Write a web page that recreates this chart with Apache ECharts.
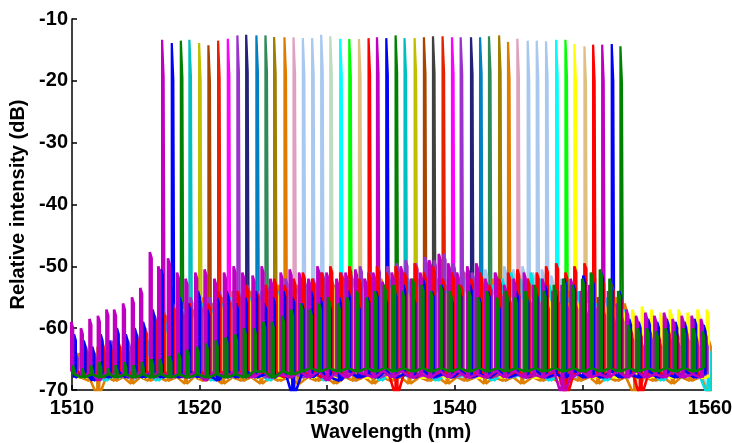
<!DOCTYPE html>
<html>
<head>
<meta charset="utf-8">
<script src="https://cdn.jsdelivr.net/npm/echarts@6/dist/echarts.min.js"></script>
<style>
  html, body { margin: 0; padding: 0; background: #ffffff; }
  #chart { width: 732px; height: 443px; }
</style>
</head>
<body>
<div id="chart"></div>
<script>
// ---- Channel peaks: centre wavelength (nm), peak level (dB), trace colour ----
const channelWavelengths = [
  1517.06, 1517.82, 1518.53, 1519.20, 1519.96, 1520.69, 1521.45, 1522.21, 1522.96, 1523.65,
  1524.45, 1525.16, 1525.84, 1526.65, 1527.36, 1528.09, 1528.82, 1529.53, 1530.24, 1531.02,
  1531.73, 1532.49, 1533.24, 1533.90, 1534.63, 1535.36, 1536.06, 1536.85, 1537.58, 1538.29,
  1539.04, 1539.78, 1540.46, 1541.27, 1541.98, 1542.68, 1543.47, 1544.17, 1544.90, 1545.71,
  1546.42, 1547.15, 1547.94, 1548.67, 1549.37, 1550.16, 1550.84, 1551.55, 1552.30, 1552.98
];
const channelPeaks = [
  -13.35, -13.9, -13.5, -13.35, -13.9, -14.25, -13.5, -13.2, -12.65, -12.55,
  -12.65, -12.65, -12.9, -12.95, -12.95, -13.1, -13.1, -12.55, -12.8, -13.2,
  -13.25, -13.25, -13.1, -12.95, -13.1, -12.65, -13.1, -13.1, -12.95, -12.8,
  -12.8, -12.95, -12.95, -12.95, -12.95, -12.8, -12.65, -13.7, -13.2, -13.5,
  -13.5, -13.6, -13.35, -13.35, -14.05, -14.4, -14.15, -14.15, -14.05, -14.4
];
const channelColors = [
  '#c000c0', '#0000ff', '#008000', '#00bfbf', '#bfbf00', '#a84300', '#e62000', '#ff00ff', '#9933cc', '#22227a',
  '#0080c0', '#2e8b57', '#a07e00', '#e07b00', '#e0a0c0', '#a8c8f0', '#a8c8f0', '#a8c8f0', '#c0dcc0', '#00ffff',
  '#00ff00', '#e0c080', '#ff0000', '#c000c0', '#0000ff', '#008000', '#00bfbf', '#bfbf00', '#a84300', '#404040',
  '#e62000', '#ff00ff', '#9933cc', '#22227a', '#0080c0', '#2e8b57', '#a07e00', '#e07b00', '#e0a0c0', '#a8c8f0',
  '#a8c8f0', '#a8c8f0', '#00ffff', '#00ff00', '#ffff00', '#e0c080', '#ff0000', '#c000c0', '#0000ff', '#008000'
];

// ---- Background (ASE / side-mode) ripple: spike positions (nm) ----
const rippleGrid = [
  1510.24, 1511.00, 1511.67, 1512.33, 1513.00, 1513.60, 1514.30, 1515.00, 1515.65, 1516.40,
  1517.06, 1517.82, 1518.53, 1519.20, 1519.96, 1520.69, 1521.45, 1522.21, 1522.96, 1523.65,
  1524.45, 1525.16, 1525.84, 1526.65, 1527.36, 1528.09, 1528.82, 1529.53, 1530.24, 1531.02,
  1531.73, 1532.49, 1533.24, 1533.90, 1534.63, 1535.36, 1536.06, 1536.85, 1537.58, 1538.29,
  1539.04, 1539.78, 1540.46, 1541.27, 1541.98, 1542.68, 1543.47, 1544.17, 1544.90, 1545.71,
  1546.42, 1547.15, 1547.94, 1548.67, 1549.37, 1550.16, 1550.84, 1551.55, 1552.30, 1552.98,
  1553.75, 1554.50, 1555.23, 1555.94, 1556.69, 1557.37, 1558.08, 1558.86, 1559.59
];

// Spike tops / valley levels (dB) of each background trace, one value per grid position
const magentaTops = [
  -59, -60, -58.5, -58, -57, -57, -56, -55, -53.5, -47.7,
  -50, -48.7, -51, -52, -51, -50.5, -52, -51, -50, -51,
  -51.5, -50, -52, -51, -50.5, -51, -52, -50, -51, -52,
  -51, -50.5, -52, -51, -52.5, -51, -50, -52, -51, -49,
  -48, -49.5, -51, -50, -49.5, -52, -51, -53, -52, -51,
  -53, -52, -54, -53, -52, -54, -53, -55, -54, -56,
  -57, -58, -57.5, -58, -57.5, -58.5, -58, -58, -58.5
];
const magentaLows = [
  -67, -68, -67, -68.5, -67, -68, -67.5, -68, -67, -68,
  -67, -68, -67.5, -68, -67, -68.5, -67, -68, -67, -67.5,
  -68, -67, -68, -67.5, -68, -67, -68, -67, -68.5, -67,
  -68, -67, -67.5, -68, -67, -68, -67, -68, -67.5, -68,
  -67, -68, -67, -68, -67.5, -68, -67, -68, -67, -68,
  -67.5, -68, -67, -71, -68, -67, -68, -67.5, -68, -67,
  -68, -67, -68, -67.5, -68, -67, -68, -67.5, -68
];
const blueTops = [
  -61, -62, -63, -61, -62, -60, -61, -60, -59, -57,
  -50.5, -53, -55, -56, -54, -57, -55, -54, -56, -55,
  -54, -56, -55, -54, -55, -56, -54, -55, -56, -55,
  -54, -56, -55, -54, -55, -54, -53, -55, -52, -54,
  -53, -55, -54, -53, -55, -54, -56, -55, -54, -55,
  -54, -53, -54, -52, -53, -51.5, -52, -51, -53, -54,
  -58.5, -59, -58.5, -59, -58.5, -59, -59, -58.5, -59.5
];
const blueLows = [
  -68, -67, -68.5, -67.5, -68, -67, -68, -67.5, -68, -67,
  -68, -67.5, -68, -67, -68, -67.5, -68.5, -67, -68, -67,
  -68, -67.5, -68, -67, -71, -67.5, -68, -67, -68, -68.5,
  -67, -68, -67.5, -68, -67, -68, -67.5, -68, -67, -68,
  -67.5, -68, -67, -68, -67.5, -68, -67, -68, -67.5, -68,
  -67, -68, -67.5, -68, -67, -68, -67.5, -68, -67, -68,
  -67.5, -68, -67, -68, -67.5, -68, -67, -68, -67.5
];
const redTops = [
  -64, -63, -64, -62, -63, -62, -63, -61, -60, -58,
  -57, -56, -57, -56, -55, -56, -54, -55, -54, -53,
  -54, -53, -52, -53, -52, -51, -52, -51, -50, -51,
  -50, -52, -51, -50, -51, -50, -51, -49.5, -51, -50,
  -52, -51, -53, -52, -51, -53, -52, -51, -50.5, -52,
  -51, -50, -49.5, -51, -50, -49.5, -51, -52, -53, -55,
  -60, -60.5, -60, -61, -60, -60.5, -60, -61, -60.5
];
const redLows = [
  -67, -67.5, -67, -68, -67, -67.5, -67, -68, -67, -67.5,
  -67, -68, -67, -67.5, -67, -68, -67, -67.5, -67, -68,
  -67, -67.5, -67, -68, -67, -67.5, -67, -68, -67, -67.5,
  -67, -68, -67, -67.5, -67, -71, -67, -68, -67, -67.5,
  -67, -68, -67, -67.5, -67, -68, -67, -67.5, -67, -68,
  -67, -67.5, -67, -71, -67, -68, -67, -67.5, -67, -68,
  -67, -71, -67, -67.5, -67, -68, -67, -67.5, -67
];
const greenTops = [
  -66, -66.5, -66, -65.5, -66.5, -66, -65.5, -66, -65.5, -65,
  -65, -64.5, -64, -63.5, -63, -62.5, -62, -61.5, -61, -60,
  -60, -59, -59, -58, -57, -56, -57, -56, -55, -56,
  -55, -54, -55, -54, -53, -53, -54, -52, -53, -54,
  -53, -54, -53, -54, -55, -54, -55, -54, -55, -54,
  -53, -54, -53, -52, -53, -52, -51, -50.5, -52, -54,
  -59.5, -60, -60, -60.5, -60, -60.5, -60, -60, -60.5
];
const greenLows = [
  -67.5, -68, -67.5, -68, -67.5, -68, -67.5, -68, -67.5, -68,
  -67.5, -68, -67.5, -68, -67.5, -68, -67.5, -68, -67.5, -68,
  -67, -67, -68, -67, -67.5, -67, -66.5, -67, -66.5, -67,
  -66.5, -67, -66.5, -67, -66.5, -67, -66.5, -67, -66.5, -67,
  -66.5, -67, -66.5, -67, -66.5, -67, -66.5, -67, -66.5, -67,
  -66.5, -67, -66.5, -67, -66.5, -67, -66.5, -67, -66.5, -67,
  -66.5, -67, -66.5, -67, -66.5, -67, -66.5, -67, -66.5
];
const yellowTops = [
  -66, -66, -65, -66, -65, -66, -65, -65, -64, -63,
  -60, -59, -58, -58, -57, -57, -56, -56, -56, -55,
  -55, -55, -54, -54, -54, -54, -53, -54, -53, -54,
  -53, -53, -54, -53, -53, -53, -54, -53, -54, -53.5,
  -54, -54, -53.5, -54, -54.5, -54, -54.5, -55, -54.5, -55,
  -55.5, -55, -55.5, -56, -55.5, -56, -56.5, -56, -56.5, -57,
  -57, -56.5, -57, -57.5, -57, -57, -57.5, -57, -57
];
const yellowLows = [
  -68, -68, -68, -67, -68, -68, -67, -68, -68, -67,
  -68, -68, -67, -68, -68, -67, -68, -68, -67, -68,
  -68, -67, -68, -68, -67, -68, -68, -67, -68, -68,
  -67, -68, -68, -67, -68, -68, -67, -68, -68, -67,
  -68, -68, -67, -68, -68, -67, -68, -68, -67, -68,
  -68, -67, -68, -68, -67, -68, -68, -67, -68, -68,
  -67, -68, -68, -67, -68, -68, -67, -68, -68
];
const orangeTops = [
  -64, -65, -63, -64, -65, -63, -64, -63, -62, -61,
  -58, -57, -56, -57, -55, -56, -55, -54, -55, -54,
  -55, -54, -53, -54, -53, -54, -53, -54, -53, -52,
  -53, -52, -53, -52, -53, -52, -53, -52, -51, -52,
  -53, -52, -51, -52, -53, -52, -53, -54, -53, -54,
  -53, -54, -55, -54, -55, -54, -55, -56, -55, -56,
  -62, -63, -62, -63, -62, -63, -62, -63, -62
];
const orangeLows = [
  -68, -68.5, -71, -68, -68.5, -68, -69, -68, -68.5, -68,
  -68.5, -68, -69, -68, -68.5, -68, -69, -68, -68.5, -68,
  -69, -68, -68.5, -68, -69, -68, -68.5, -68, -69, -68,
  -68.5, -68, -69, -68, -68.5, -68, -69, -68, -68.5, -68,
  -69, -68, -68.5, -68, -69, -68, -68.5, -68, -69, -68,
  -68.5, -68, -69, -68, -68.5, -68, -69, -68, -68.5, -68,
  -71, -68, -68.5, -68, -69, -68, -68.5, -68, -71
];
const cyanTops = [
  -65, -64, -65, -64, -63, -64, -63, -62, -62, -61,
  -59, -58, -57, -58, -56, -57, -56, -55, -56, -55,
  -54, -55, -54, -55, -54, -53, -54, -53, -54, -53,
  -52, -53, -52, -53, -52, -53, -52, -53, -54, -53,
  -54, -53, -52, -53, -52, -53, -52, -51, -52, -51,
  -52, -53, -54, -55, -54, -55, -56, -55, -56, -57,
  -63, -64, -63, -64, -63, -64, -63, -64, -63
];
const cyanLows = [
  -67.5, -68, -67.5, -68.5, -67.5, -68, -67.5, -68, -67.5, -68.5,
  -67.5, -68, -67.5, -68, -67.5, -68.5, -67.5, -68, -67.5, -68,
  -67.5, -68.5, -67.5, -68, -67.5, -68, -67.5, -68.5, -67.5, -68,
  -67.5, -68, -67.5, -68.5, -67.5, -68, -67.5, -68, -67.5, -68.5,
  -67.5, -68, -67.5, -68, -67.5, -68.5, -67.5, -68, -67.5, -68,
  -67.5, -68.5, -67.5, -68, -67.5, -68, -67.5, -68.5, -67.5, -68,
  -67.5, -68, -67.5, -68.5, -67.5, -68, -67.5, -68, -71
];
const purpleTops = [
  -64, -63, -64, -63, -62, -63, -62, -61, -60, -58,
  -57, -56, -57, -55, -56, -55, -54, -55, -54, -53,
  -54, -53, -53, -52, -53, -52, -52, -51, -52, -51,
  -51, -50, -51, -50, -50, -49.5, -49, -49.5, -48.5, -49,
  -48, -49.5, -50, -51, -52, -53, -54, -55, -54, -55,
  -55, -56, -55, -56, -56, -57, -56, -57, -58, -58,
  -61, -62, -61, -62, -61, -62, -61, -62, -62
];
const purpleLows = [
  -67.5, -68, -67.5, -68, -67.5, -68, -67.5, -68, -67.5, -68,
  -67.5, -68, -67.5, -68, -67.5, -68, -67.5, -68, -67.5, -68,
  -67.5, -68, -67.5, -68, -67.5, -68, -67.5, -68, -67.5, -68,
  -67.5, -68, -67.5, -68, -67.5, -68, -67.5, -68, -67.5, -68,
  -67.5, -68, -67.5, -68, -67.5, -68, -67.5, -68, -67.5, -68,
  -67.5, -68, -67.5, -68, -67.5, -68, -67.5, -68, -67.5, -68,
  -67.5, -68, -67.5, -68, -67.5, -68, -67.5, -68, -67.5
];
const lightBlueTops = [
  -65, -66, -65, -66, -65, -66, -65, -66, -64, -63,
  -62, -61, -62, -61, -60, -61, -60, -59, -60, -59,
  -58, -59, -58, -57, -58, -57, -56, -57, -56, -55,
  -56, -55, -54, -55, -54, -53, -54, -53, -52, -53,
  -52, -51, -52, -51, -50.5, -51, -50, -50.5, -50, -51,
  -50.5, -51.5, -52, -53, -54, -55, -56, -57, -58, -59,
  -62, -63, -62, -63, -62, -63, -62, -63, -71
];
const lightBlueLows = [
  -68, -67.5, -68.5, -67.5, -68, -67.5, -68.5, -67.5, -68, -67.5,
  -68.5, -67.5, -68, -67.5, -68.5, -67.5, -68, -67.5, -68.5, -67.5,
  -68, -67.5, -68.5, -67.5, -68, -67.5, -68.5, -67.5, -68, -67.5,
  -68.5, -67.5, -68, -67.5, -68.5, -67.5, -68, -67.5, -68.5, -67.5,
  -68, -67.5, -68.5, -67.5, -68, -67.5, -68.5, -67.5, -68, -67.5,
  -68.5, -67.5, -68, -67.5, -68.5, -67.5, -68, -67.5, -68.5, -67.5,
  -68, -67.5, -68.5, -67.5, -68, -67.5, -68.5, -67.5, -71
];

// Background traces: [colour, tops, lows, wavelength shift of the spikes (nm)], painted in order
const backgroundTraces = [
  ['#a8c8f0', lightBlueTops, lightBlueLows, 0.40],
  ['#e08000', orangeTops, orangeLows, 0.32],
  ['#00e0e0', cyanTops, cyanLows, 0.24],
  ['#ffff00', yellowTops, yellowLows, 0.16],
  ['#9933cc', purpleTops, purpleLows, 0.08],
  ['#ff0000', redTops, redLows, 0.0],
  ['#0000ff', blueTops, blueLows, -0.09],
  ['#c000c0', magentaTops, magentaLows, -0.3],
  ['#008000', greenTops, greenLows, -0.18]
];

// Peak outline relative to the channel centre (nm): steep rise, short flat top, stepped fall
const PEAK_TOP = 0.1, PEAK_STEP = 0.12, PEAK_FALL = 0.2;
const PEAK_BASE = -64;
// Width of one background spike (nm)
const SPIKE_WIDTH = 0.14;

const series = [];

// Channel peaks first, so the background ripple is painted over their feet
channelWavelengths.forEach((wl, i) => {
  const top = channelPeaks[i];
  series.push({
    type: 'line',
    name: 'ch' + (i + 1),
    data: [
      [wl, PEAK_BASE],
      [wl, top],
      [wl + PEAK_TOP, top - 0.3],
      [wl + PEAK_STEP, top - 6],
      [wl + PEAK_FALL, PEAK_BASE]
    ],
    showSymbol: false,
    clip: true,
    lineStyle: { color: channelColors[i], width: 2.2 },
    z: 2
  });
});

backgroundTraces.forEach(([color, tops, lows, shift], t) => {
  const pts = [];
  rippleGrid.forEach((g, k) => {
    const x = g + shift;
    pts.push([x, lows[k]]);
    pts.push([x, tops[k]]);
    pts.push([x + SPIKE_WIDTH, tops[k] - 1]);
    pts.push([x + SPIKE_WIDTH, lows[k]]);
  });
  series.push({
    type: 'line',
    name: 'bg' + t,
    data: pts,
    showSymbol: false,
    clip: true,
    lineStyle: { color: color, width: 2.6 },
    z: 3
  });
});

const labelFont = { fontFamily: 'Arial, "Liberation Sans", sans-serif', fontWeight: 'bold', fontSize: 20, color: '#000' };

const chart = echarts.init(document.getElementById('chart'), null, { renderer: 'canvas' });
chart.setOption({
  animation: false,
  backgroundColor: '#ffffff',
  grid: { left: 72, right: 22, top: 19, bottom: 53, containLabel: false, outerBoundsMode: 'none' },
  xAxis: {
    type: 'value',
    min: 1510, max: 1560, interval: 10,
    name: 'Wavelength (nm)',
    nameLocation: 'middle',
    nameGap: 31,
    nameTextStyle: Object.assign({}, labelFont),
    axisLine: { show: true, onZero: false, lineStyle: { color: '#000', width: 1.5 } },
    axisTick: { show: true, inside: true, length: 5, lineStyle: { color: '#000', width: 1.5 } },
    axisLabel: Object.assign({ margin: 8, formatter: v => String(v) }, labelFont),
    splitLine: { show: false }
  },
  yAxis: {
    type: 'value',
    min: -70, max: -10, interval: 10,
    name: 'Relative intensity (dB)',
    nameLocation: 'middle',
    nameGap: 42,
    nameTextStyle: Object.assign({}, labelFont),
    axisLine: { show: true, onZero: false, lineStyle: { color: '#000', width: 1.5 } },
    axisTick: { show: true, inside: true, length: 5, lineStyle: { color: '#000', width: 1.5 } },
    axisLabel: Object.assign({ margin: 4, formatter: v => String(v) }, labelFont),
    splitLine: { show: false }
  },
  series: series
});
</script>
</body>
</html>
